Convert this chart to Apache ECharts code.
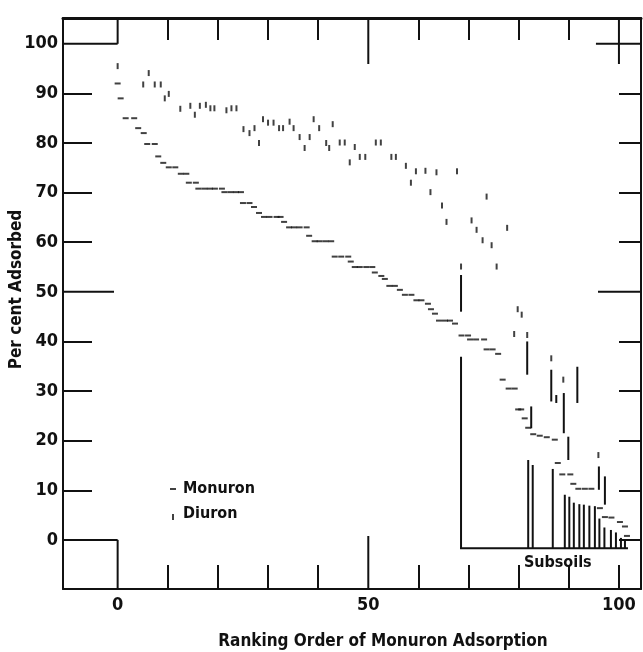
<!DOCTYPE html>
<html>
<head>
<meta charset="utf-8">
<script src="https://cdn.jsdelivr.net/npm/echarts@6/dist/echarts.min.js"></script>
<style>
  html, body { margin: 0; padding: 0; background: #fff; }
  #chart { width: 643px; height: 652px; }
</style>
</head>
<body>
<div id="chart"></div>
<script>
// Per cent adsorbed, plotted against position in the Monuron ranking: [rank, per cent]
const monuron = [
  [0, 92], [0.6, 89], [1.6, 85], [3.3, 85], [4.1, 83], [5.2, 82], [5.9, 79.8], [7.4, 79.8],
  [8.1, 77.3], [9.1, 76], [10.2, 75.1], [11.5, 75.1], [12.6, 73.8], [13.7, 73.8], [14.2, 72],
  [15.6, 72], [16.1, 70.8], [17.3, 70.8], [18.4, 70.8], [19.4, 70.8], [20.8, 70.8], [21.3, 70.1],
  [22.5, 70.1], [23.6, 70.1], [24.6, 70.1], [25, 67.9], [26.3, 67.9], [27.2, 67.1], [28.2, 65.9],
  [29.2, 65.1], [30.3, 65.1], [31.7, 65.1], [32.5, 65.1], [33.2, 64.1], [34.2, 63], [35.2, 63],
  [36.3, 63], [37.7, 63], [38.2, 61.3], [39.3, 60.2], [40.3, 60.2], [41.5, 60.2], [42.6, 60.2],
  [43.3, 57.1], [44.6, 57.1], [46, 57.1], [46.5, 56.1], [47.3, 55], [48.3, 55], [49.6, 55],
  [50.8, 55], [51.3, 53.9], [52.6, 53.2], [53.3, 52.6], [54.2, 51.2], [55.3, 51.2], [56.3, 50.4],
  [57.3, 49.4], [58.6, 49.4], [59.6, 48.3], [60.6, 48.3], [61.9, 47.6], [62.5, 46.5], [63.3, 45.6],
  [64.1, 44.2], [65.3, 44.2], [66.3, 44.2], [67.3, 43.6], [68.6, 41.2], [69.9, 41.2], [70.3, 40.4],
  [71.5, 40.4], [73.1, 40.4], [73.6, 38.4], [74.8, 38.4], [75.9, 37.5], [76.8, 32.3], [78, 30.5],
  [79.2, 30.5], [79.9, 26.3], [80.5, 26.3], [81.2, 24.5], [81.9, 22.6], [82.9, 21.3], [84.2, 21],
  [85.6, 20.7], [87.2, 20.2], [87.8, 15.5], [88.7, 13.2], [90.3, 13.2], [90.9, 11.3], [91.9, 10.3],
  [93.2, 10.3], [94.5, 10.3], [96.2, 6.4], [97.2, 4.6], [98.5, 4.5], [100.2, 3.6], [101.2, 2.7],
  [101.6, 0.8]
];

const diuron = [
  [0, 95.5], [5.1, 91.8], [6.2, 94.1], [7.4, 91.8], [8.6, 91.8], [9.4, 89], [10.2, 89.9],
  [12.5, 86.9], [14.5, 87.5], [15.4, 85.7], [16.4, 87.5], [17.6, 87.7], [18.5, 87], [19.3, 87],
  [21.7, 86.6], [22.7, 87], [23.7, 87], [25.1, 82.8], [26.3, 82], [27.3, 83], [28.2, 80],
  [29, 84.8], [30, 84.1], [31.1, 84.1], [32.2, 83], [33, 83], [34.3, 84.3], [35.1, 83],
  [36.3, 81.2], [37.3, 79], [38.3, 81.2], [39.1, 84.8], [40.2, 83], [41.6, 80], [42.2, 79],
  [42.9, 83.8], [44.3, 80.1], [45.3, 80.1], [46.3, 76.1], [47.3, 79.2], [48.3, 77.2], [49.4, 77.2],
  [51.5, 80.1], [52.5, 80.1], [54.6, 77.2], [55.5, 77.2], [57.5, 75.4], [58.5, 72], [59.5, 74.3],
  [61.4, 74.4], [62.4, 70.1], [63.6, 74.1], [64.7, 67.4], [65.6, 64.1], [67.7, 74.3], [68.5, 55.1],
  [70.6, 64.4], [71.6, 62.5], [72.8, 60.4], [73.6, 69.2], [74.6, 59.4], [75.6, 55.1], [77.7, 62.9],
  [79.1, 41.5], [79.8, 46.5], [80.6, 45.4], [81.7, 41.3], [86.5, 36.6], [88.9, 32.3], [95.9, 17.1]
];

// Diuron readings drawn as a vertical range: [rank, low, high]
const diuronSpans = [
  [68.5, 46, 53.4], [81.7, 33.3, 40], [82.5, 22.5, 26.9], [86.5, 27.9, 34.3], [87.5, 27.6, 29.2],
  [89, 21.5, 29.6], [89.9, 16.1, 20.8], [91.7, 27.6, 34.9], [96, 10.1, 14.8], [97.2, 7.1, 12.8]
];

// Subsoil samples: rank and per cent Monuron adsorbed
const subsoilRanks = [81.9, 82.8, 86.8, 89.2, 90.1, 91, 92.1, 93, 94.1, 95.2, 96.1, 97.1, 98.4, 99.4, 100.4, 101.2];
const subsoilValues = [16.1, 15.1, 14.3, 9.1, 8.7, 7.5, 7.2, 7.1, 6.9, 6.8, 4.3, 2.5, 2, 1.5, 0.4, -0.2];
const subsoilBase = -1.7;
const subsoilBracketStart = 68.5;
const subsoilBracketTop = 36.9;
const subsoilBracketEnd = 101.8;
const subsoilLabelRank = 87.8;

// Axis extents and ticks
const xRange = [-10.9, 104.4];
const yRange = [-9.9, 105.2];
const xLabels = [0, 50, 100];
const yLabels = [0, 10, 20, 30, 40, 50, 60, 70, 80, 90, 100];
const shortTicks = [10, 20, 30, 40, 60, 70, 80, 90];
const midTick = 50;
const cornerLow = 0;
const cornerHigh = 100;

const FONT = '"Liberation Sans Narrow", "DejaVu Sans Condensed", "Roboto Condensed", "DejaVu Sans", sans-serif';
const INK = '#111';

const chart = echarts.init(document.getElementById('chart'), null, { renderer: 'canvas' });

function seg(p, q, w) {
  return {
    type: 'line',
    shape: { x1: p[0], y1: p[1], x2: q[0], y2: q[1] },
    style: { stroke: INK, lineWidth: w || 2 }
  };
}

chart.setOption({
  backgroundColor: '#fff',
  animation: false,
  textStyle: { fontFamily: FONT, fontWeight: 'bold', color: INK },
  grid: { left: 63, top: 18, right: 2, bottom: 63, containLabel: false, outerBoundsMode: 'none' },
  legend: {
    orient: 'vertical',
    left: 163, top: 476,
    itemGap: 9,
    itemWidth: 10, itemHeight: 12,
    selectedMode: false,
    textStyle: { fontFamily: FONT, fontWeight: 'bold', fontSize: 16, color: INK },
    data: [
      { name: 'Monuron', icon: 'path://M0,0M10,12M2,5h6v2h-6z' },
      { name: 'Diuron', icon: 'path://M0,0M10,12M4,6h2v6h-2z' }
    ]
  },
  xAxis: [
    {
      type: 'value', min: xRange[0], max: xRange[1], position: 'bottom',
      splitLine: { show: false },
      axisLine: { show: true, onZero: false, lineStyle: { color: INK, width: 2 } },
      axisTick: { show: true, inside: true, length: 24, customValues: shortTicks.concat([100]), lineStyle: { color: INK, width: 2 } },
      axisLabel: { show: true, customValues: xLabels, margin: 7, fontSize: 18, fontWeight: 'bold', fontFamily: FONT, color: INK },
      name: 'Ranking Order of Monuron Adsorption',
      nameLocation: 'middle',
      nameGap: 44,
      nameMoveOverlap: false,
      nameTextStyle: { fontSize: 17, fontWeight: 'bold', fontFamily: FONT, color: INK, padding: [0, 0, 0, 62] }
    },
    {
      type: 'value', min: xRange[0], max: xRange[1], position: 'top',
      splitLine: { show: false },
      axisLine: { show: true, onZero: false, lineStyle: { color: INK, width: 3 } },
      axisTick: { show: true, inside: true, length: 22, customValues: shortTicks, lineStyle: { color: INK, width: 2 } },
      axisLabel: { show: false }
    }
  ],
  yAxis: [
    {
      type: 'value', min: yRange[0], max: yRange[1], position: 'left',
      splitLine: { show: false },
      axisLine: { show: true, onZero: false, lineStyle: { color: INK, width: 2 } },
      axisTick: { show: true, inside: true, length: 29, customValues: shortTicks, lineStyle: { color: INK, width: 2 } },
      axisLabel: { show: true, customValues: yLabels, margin: 5, fontSize: 18, fontWeight: 'bold', fontFamily: FONT, color: INK },
      name: 'Per cent Adsorbed',
      nameLocation: 'middle',
      nameRotate: 90,
      nameGap: 38,
      nameMoveOverlap: false,
      nameTextStyle: { fontSize: 17, fontWeight: 'bold', fontFamily: FONT, color: INK, padding: [0, 0, 0, 28] }
    },
    {
      type: 'value', min: yRange[0], max: yRange[1], position: 'right',
      splitLine: { show: false },
      axisLine: { show: true, onZero: false, lineStyle: { color: INK, width: 2 } },
      axisTick: { show: true, inside: true, length: 22, customValues: [0].concat(shortTicks), lineStyle: { color: INK, width: 2 } },
      axisLabel: { show: false }
    }
  ],
  series: [
    {
      name: 'Monuron',
      type: 'scatter',
      symbol: 'rect',
      symbolSize: [6, 2],
      itemStyle: { color: INK },
      data: monuron
    },
    {
      name: 'Diuron',
      type: 'scatter',
      symbol: 'rect',
      symbolSize: [2, 6],
      itemStyle: { color: INK },
      data: diuron
    },
    {
      name: 'Diuron',
      type: 'custom',
      data: diuronSpans,
      renderItem: function (params, api) {
        const lo = api.coord([api.value(0), api.value(1)]);
        const hi = api.coord([api.value(0), api.value(2)]);
        return seg(lo, hi, 2);
      }
    },
    {
      name: 'Subsoils',
      type: 'custom',
      data: subsoilRanks.map(function (r, i) { return [r, subsoilValues[i]]; }),
      renderItem: function (params, api) {
        const top = api.coord([api.value(0), api.value(1)]);
        const bottom = api.coord([api.value(0), subsoilBase]);
        return seg(top, bottom, 2);
      }
    },
    {
      name: 'Subsoils',
      type: 'custom',
      data: [[subsoilBracketStart, subsoilBracketTop, subsoilBracketEnd]],
      renderItem: function (params, api) {
        const a = api.coord([api.value(0), api.value(1)]);
        const b = api.coord([api.value(0), subsoilBase]);
        const c = api.coord([api.value(2), subsoilBase]);
        const mid = api.coord([subsoilLabelRank, subsoilBase]);
        return {
          type: 'group',
          children: [
            {
              type: 'polyline',
              shape: { points: [a, b, c] },
              style: { stroke: INK, lineWidth: 2, fill: null }
            },
            {
              type: 'text',
              x: mid[0], y: mid[1] + 7,
              style: {
                text: 'Subsoils', fill: INK,
                font: 'bold 16px ' + FONT,
                align: 'center', verticalAlign: 'top'
              }
            }
          ]
        };
      }
    },
    {
      // long ticks at the midpoint and the L-shaped corner marks at 0 and 100
      name: 'frame',
      type: 'custom',
      silent: true,
      data: [[midTick, cornerLow, cornerHigh]],
      renderItem: function (params, api) {
        const cs = params.coordSys;
        const left = cs.x, right = cs.x + cs.width, top = cs.y, bottom = cs.y + cs.height;
        const m = api.coord([api.value(0), api.value(0)]);
        const lo = api.coord([api.value(1), api.value(1)]);
        const hi = api.coord([api.value(2), api.value(2)]);
        return {
          type: 'group',
          children: [
            seg([m[0], bottom], [m[0], bottom - 53]),
            seg([m[0], top], [m[0], top + 46]),
            seg([left, m[1]], [left + 51, m[1]]),
            seg([right, m[1]], [right - 43, m[1]]),
            // lower-left corner at 0
            seg([left, lo[1]], [lo[0], lo[1]]),
            seg([lo[0], lo[1]], [lo[0], bottom]),
            // upper-left corner at 100 per cent / rank 0
            seg([left, hi[1]], [lo[0], hi[1]]),
            seg([lo[0], hi[1]], [lo[0], top]),
            // upper-right cross at 100 / 100
            seg([hi[0] - 23, hi[1]], [right, hi[1]]),
            seg([hi[0], top], [hi[0], top + 46])
          ]
        };
      }
    }
  ]
});
</script>
</body>
</html>
